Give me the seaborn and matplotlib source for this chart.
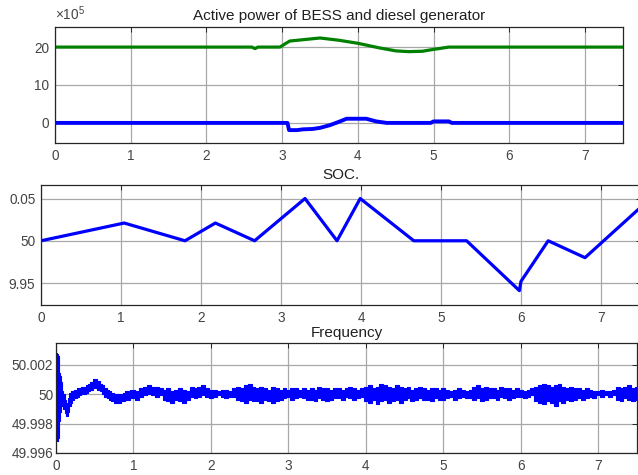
import numpy as np
import pandas as pd
import matplotlib
matplotlib.use("Agg")
import matplotlib.pyplot as plt
import seaborn as sns

# ---------------- data ----------------
# Active power (units of 1e5 W)
diesel_t = [0, 2.60, 2.64, 2.68, 2.97, 3.05, 3.10, 3.30, 3.50, 3.75, 4.00, 4.28, 4.50, 4.67, 4.85, 5.00, 5.20, 7.50]
diesel_p = [20, 20, 19.6, 20, 20, 21.0, 21.6, 22.0, 22.4, 21.8, 21.0, 19.8, 19.0, 18.8, 18.9, 19.4, 20, 20]

bess_t = [0, 3.07, 3.09, 3.20, 3.27, 3.40, 3.50, 3.63, 3.75, 3.85, 4.11, 4.24, 4.38, 4.96, 5.00, 5.20, 5.24, 7.50]
bess_p = [0, 0, -1.9, -1.9, -1.7, -1.6, -1.3, -0.6, 0.3, 1.1, 1.1, 0.4, 0.0, 0.0, 0.4, 0.4, 0.0, 0.0]

# SOC
soc_t = [0, 1.04, 1.80, 2.18, 2.67, 3.30, 3.70, 3.99, 4.66, 5.32, 5.98, 6.00, 6.34, 6.80, 7.50]
soc_v = [50.0, 50.021, 50.0, 50.021, 50.0, 50.05, 50.0, 50.05, 50.0, 50.0, 49.941, 49.952, 50.0, 49.980, 50.04]
soc_ticks = [49.95, 50.0, 50.05]
soc_ticklabels = ["9.95", "50", "0.05"]

# Frequency: envelope of the noisy trace (offsets from 50 Hz, units of 1e-4 Hz)
f_early_t = [0.0, 0.01, 0.02, 0.03, 0.04, 0.05, 0.06, 0.07, 0.08, 0.10, 0.12, 0.14, 0.16, 0.18, 0.20, 0.22,
             0.25, 0.28, 0.31, 0.34, 0.37, 0.40, 0.43, 0.46, 0.49, 0.52, 0.55, 0.58, 0.61, 0.64, 0.67,
             0.70, 0.73, 0.76, 0.79, 0.82, 0.85, 0.88, 0.91, 0.94, 0.97]
f_early_hi = [27, 28, 27, 26, 20, 14, 12, 8, 2, 0, -4, -6, -3, 1, 2, 2,
              3, 4, 4, 5, 5, 6, 7, 8, 10, 10, 9, 7, 6, 4, 3,
              2, 1, 0, 0, 0, 0, 1, 2, 2, 3]
f_early_lo = [-25, -31, -32, -30, -25, -18, -12, -6, -8, -10, -13, -15, -12, -8, -6, -4,
              -3, -2, -1, 0, 0, 1, 2, 3, 4, 4, 3, 2, 0, -2, -3,
              -4, -5, -6, -6, -6, -5, -5, -4, -4, -3]
f_late_hi = [3, 2, 4,
             5, 6, 5, 5, 4,
             3, 4, 2, 3, 4, 3, 2,
             5, 4, 5, 6, 4, 3,
             3, 2, 3, 3, 2, 4,
             5, 4, 6, 7, 5,
             4, 5, 4, 3, 5, 4, 3,
             4, 3, 4, 4, 3, 4, 3,
             4, 3, 5, 4, 4, 3, 4,
             4, 3, 4, 5, 4, 3, 4,
             5, 6, 4, 5, 7, 6, 5, 4, 6, 5,
             4, 5, 3, 4, 5, 4,
             3, 4, 4, 3, 4,
             3, 2, 3, 4, 3, 2, 3,
             5, 6, 4, 5, 4,
             4, 3, 5, 4, 4, 3, 4,
             3, 2, 3, 4,
             5, 6, 7, 6, 5, 6, 7, 5, 4, 5, 4,
             4, 3, 4, 3, 2,
             2, 3, 2, 2, 3,
             5, 4, 5, 6, 4, 5]
f_late_lo = [-3, -4, -2,
             -1, 0, -1, -2, -1,
             -4, -5, -6, -4, -5, -6, -4,
             -2, -3, -2, -1, -2, -3,
             -2, -1, -2, -3, -2, -2,
             -4, -5, -6, -4, -5,
             -5, -6, -4, -5, -6, -5, -4,
             -3, -2, -4, -3, -2, -3, -4,
             -4, -5, -3, -4, -5, -4, -3,
             -3, -4, -2, -3, -4, -3, -2,
             -5, -6, -4, -7, -5, -4, -6, -5, -4, -6,
             -4, -3, -5, -4, -3, -4,
             -4, -5, -3, -4, -4,
             -3, -2, -4, -3, -2, -3, -3,
             -4, -3, -5, -4, -3,
             -3, -4, -2, -3, -4, -3, -2,
             -2, -3, -2, -1,
             -5, -6, -7, -5, -6, -8, -5, -6, -4, -5, -4,
             -3, -4, -3, -2, -3,
             -1, -2, -1, -2, -1,
             -4, -5, -3, -4, -5, -4]
f_late_t = np.round(np.arange(1.0, 7.5001, 0.05), 2)
freq_ticks = [49.996, 49.998, 50.0, 50.002]
freq_ticklabels = ["49.996", "49.998", "50", "50.002"]

x_ticks = [0, 1, 2, 3, 4, 5, 6, 7]

# ---------------- style ----------------
sns.set_style("white")
plt.rcParams["font.family"] = ["Liberation Sans", "DejaVu Sans"]
plt.rcParams["mathtext.fontset"] = "custom"
plt.rcParams["mathtext.rm"] = "Liberation Sans"
plt.rcParams["mathtext.it"] = "Liberation Sans"

BLUE = "#0000FF"
GREEN = "#008000"
GRID = "#a8a8a8"
SPINE = "#262626"
TXT = "#444444"
TICKFS = 9.8
TITLEFS = 11

fig = plt.figure(figsize=(6.38, 4.75), dpi=100)
ax1 = fig.add_axes([55/638, 1-143/475, 568/638, 116/475])
ax2 = fig.add_axes([41/638, 1-305/475, 600/638, 120/475])
ax3 = fig.add_axes([56/638, 1-453/475, 581/638, 110/475])


def style(ax):
    ax.set_xlim(0, 7.5)
    ax.set_xticks(x_ticks)
    ax.set_xticklabels([str(v) for v in x_ticks])
    ax.grid(True, color=GRID, linewidth=0.9)
    ax.set_axisbelow(True)
    for s in ax.spines.values():
        s.set_color(SPINE)
        s.set_linewidth(0.9)
        s.set_visible(True)
    ax.tick_params(direction="in", length=3.5, width=0.7, colors=SPINE,
                   labelcolor=TXT, labelsize=TICKFS, top=True, right=True, pad=4)
    ax.set_xlabel("")
    ax.set_ylabel("")


# --- top: active power ---
sns.lineplot(x=diesel_t, y=diesel_p, ax=ax1, color=GREEN, linewidth=2.3, estimator=None, sort=False)
sns.lineplot(x=bess_t, y=bess_p, ax=ax1, color=BLUE, linewidth=2.8, estimator=None, sort=False)
style(ax1)
ax1.set_ylim(-5.3, 25.3)
ax1.set_yticks([0, 10, 20])
ax1.set_yticklabels(["0", "10", "20"])
ax1.set_title("Active power of BESS and diesel generator", fontsize=TITLEFS, pad=5, color="#202020")
ax1.annotate(r"$\times10^{5}$", xy=(0, 1), xycoords="axes fraction", xytext=(0, 3),
             textcoords="offset points", ha="left", va="bottom", fontsize=TICKFS, color=TXT)

# --- middle: SOC ---
sns.lineplot(x=soc_t, y=soc_v, ax=ax2, color=BLUE, linewidth=2.3, estimator=None, sort=False)
style(ax2)
ax2.set_ylim(49.924, 50.066)
ax2.set_yticks(soc_ticks)
ax2.set_yticklabels(soc_ticklabels)
ax2.set_title("SOC.", fontsize=TITLEFS, pad=4, color="#202020")

# --- bottom: frequency ---
ft = np.concatenate([np.array(f_early_t), f_late_t])
fhi = 50 + np.array(f_early_hi + f_late_hi) * 1e-4
flo = 50 + np.array(f_early_lo + f_late_lo) * 1e-4
ax3.fill_between(ft, flo, fhi, color=BLUE, step="mid", linewidth=0)
sns.lineplot(x=ft, y=fhi, ax=ax3, color=BLUE, linewidth=0.8, drawstyle="steps-mid", estimator=None, sort=False)
sns.lineplot(x=ft, y=flo, ax=ax3, color=BLUE, linewidth=0.8, drawstyle="steps-mid", estimator=None, sort=False)
style(ax3)
ax3.set_ylim(49.996, 50.00346)
ax3.set_yticks(freq_ticks)
ax3.set_yticklabels(freq_ticklabels)
ax3.tick_params(axis="y", pad=2)
ax3.set_title("Frequency", fontsize=TITLEFS, pad=4, color="#202020")

fig.savefig("out.png", dpi=100)
